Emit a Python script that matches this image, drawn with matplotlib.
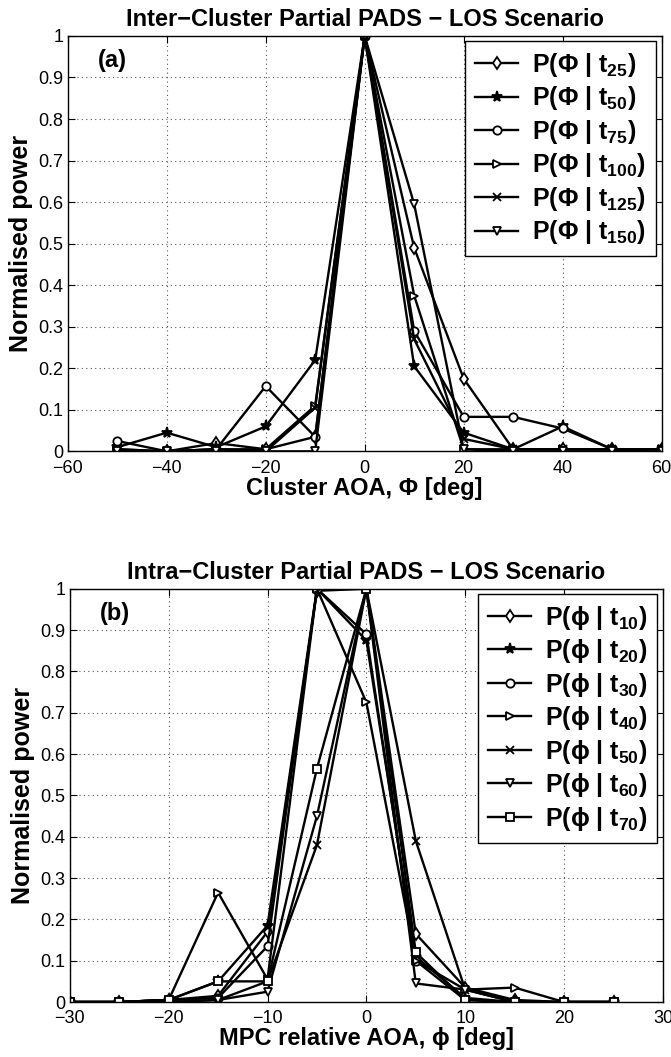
import numpy as np
import matplotlib
matplotlib.use("Agg")
import matplotlib.pyplot as plt

plt.rcParams['font.family'] = ['Liberation Sans', 'DejaVu Sans']
plt.rcParams['mathtext.fontset'] = 'custom'
plt.rcParams['mathtext.rm'] = 'Liberation Sans'
plt.rcParams['mathtext.bf'] = 'Liberation Sans:bold'
plt.rcParams['mathtext.it'] = 'Liberation Sans:italic'

# (a) inter-cluster partial PADS
aoa_a = [-50, -40, -30, -20, -10, 0, 10, 20, 30, 40, 50, 60]
t_a = ['25', '50', '75', '100', '125', '150']
p_t25 = [0.005, 0.0, 0.02, 0.005, 0.035, 1.0, 0.49, 0.175, 0.005, 0.005, 0.005, 0.005]
p_t50 = [0.01, 0.045, 0.01, 0.06, 0.22, 1.0, 0.205, 0.045, 0.005, 0.06, 0.005, 0.005]
p_t75 = [0.025, 0.0, 0.005, 0.157, 0.035, 1.0, 0.29, 0.083, 0.083, 0.055, 0.005, 0.005]
p_t100 = [0.005, 0.0, 0.005, 0.005, 0.11, 1.0, 0.375, 0.005, 0.005, 0.005, 0.005, 0.005]
p_t125 = [0.0, 0.0, 0.005, 0.0, 0.105, 1.0, 0.27, 0.03, 0.005, 0.005, 0.005, 0.005]
p_t150 = [0.0, 0.0, 0.0, 0.0, 0.0, 1.0, 0.595, 0.005, 0.0, 0.0, 0.0, 0.0]
series_a = [p_t25, p_t50, p_t75, p_t100, p_t125, p_t150]

# (b) intra-cluster partial PADS
aoa_b = [-30, -25, -20, -15, -10, -5, 0, 5, 10, 15, 20, 25]
t_b = ['10', '20', '30', '40', '50', '60', '70']
p_t10 = [0.0, 0.0, 0.005, 0.015, 0.17, 0.995, 1.0, 0.165, 0.035, 0.005, 0.0, 0.0]
p_t20 = [0.0, 0.0, 0.005, 0.05, 0.185, 1.0, 0.875, 0.11, 0.01, 0.0, 0.0, 0.0]
p_t30 = [0.0, 0.0, 0.005, 0.01, 0.135, 1.0, 0.89, 0.1, 0.005, 0.0, 0.0, 0.0]
p_t40 = [0.0, 0.0, 0.005, 0.265, 0.055, 1.0, 0.725, 0.1, 0.03, 0.035, 0.0, 0.0]
p_t50 = [0.0, 0.0, 0.0, 0.005, 0.05, 0.38, 1.0, 0.39, 0.03, 0.0, 0.0, 0.0]
p_t60 = [0.0, 0.0, 0.0, 0.005, 0.025, 0.45, 1.0, 0.045, 0.03, 0.0, 0.0, 0.0]
p_t70 = [0.0, 0.0, 0.005, 0.05, 0.05, 0.565, 1.0, 0.12, 0.005, 0.0, 0.0, 0.0]
series_b = [p_t10, p_t20, p_t30, p_t40, p_t50, p_t60, p_t70]

markers_a = ['d', '*', 'o', '>', 'x', 'v']
markers_b = ['d', '*', 'o', '>', 'x', 'v', 's']


def draw(ax, x, series, markers, tags, sym):
    for y, m, t in zip(series, markers, tags):
        face = 'black' if m in ('*', 'x') else 'white'
        ms = 8 if m == '*' else 6
        ax.plot(x, y, color='black', linewidth=1.7, marker=m, markersize=ms,
                markerfacecolor=face, markeredgecolor='black', markeredgewidth=1.3,
                label='P(' + sym + ' | t$_\\mathbf{' + t + '}$)')
    ax.set_ylim(0, 1)
    ax.set_yticks(np.arange(0, 1.01, 0.1))
    ax.set_yticklabels(['0', '0.1', '0.2', '0.3', '0.4', '0.5', '0.6', '0.7', '0.8', '0.9', '1'])
    ax.grid(True, linestyle=(0, (1, 3)), color='#555555', linewidth=0.8)
    ax.tick_params(direction='in', top=True, right=True, labelsize=13, length=5)
    ax.tick_params(axis='x', pad=6)
    ax.tick_params(axis='y', pad=3)
    for s in ax.spines.values():
        s.set_linewidth(1.0)
    ax.set_ylabel('Normalised power', fontsize=18, fontweight='bold', labelpad=4)
    ax.legend(loc='upper right', bbox_to_anchor=(0.99, 0.988), fancybox=False,
              edgecolor='black', framealpha=1, prop={'size': 18, 'weight': 'bold'},
              handlelength=1.7, labelspacing=0.22, borderaxespad=0, handletextpad=0.55,
              borderpad=0.4)


fig = plt.figure(figsize=(6.71, 10.57), dpi=100)

ax1 = fig.add_axes([0.101, 0.573, 0.885, 0.393])
draw(ax1, aoa_a, series_a, markers_a, t_a, 'Φ')
ax1.set_xlim(-60, 60)
ax1.set_xticks(np.arange(-60, 61, 20))
ax1.set_xlabel('Cluster AOA, Φ [deg]', fontsize=17, fontweight='bold', labelpad=0)
ax1.set_title('Inter\u2212Cluster Partial PADS \u2212 LOS Scenario', fontsize=17,
              fontweight='bold', pad=7)
ax1.text(-54, 0.94, '(a)', fontsize=17, fontweight='bold', va='center')

ax2 = fig.add_axes([0.104, 0.052, 0.884, 0.391])
draw(ax2, aoa_b, series_b, markers_b, t_b, 'ϕ')
ax2.set_xlim(-30, 30)
ax2.set_xticks(np.arange(-30, 31, 10))
ax2.set_xlabel('MPC relative AOA, ϕ [deg]', fontsize=17, fontweight='bold', labelpad=0)
ax2.set_title('Intra\u2212Cluster Partial PADS \u2212 LOS Scenario', fontsize=17,
              fontweight='bold', pad=7)
ax2.text(-27, 0.94, '(b)', fontsize=17, fontweight='bold', va='center')

plt.savefig('out.png', dpi=100)
